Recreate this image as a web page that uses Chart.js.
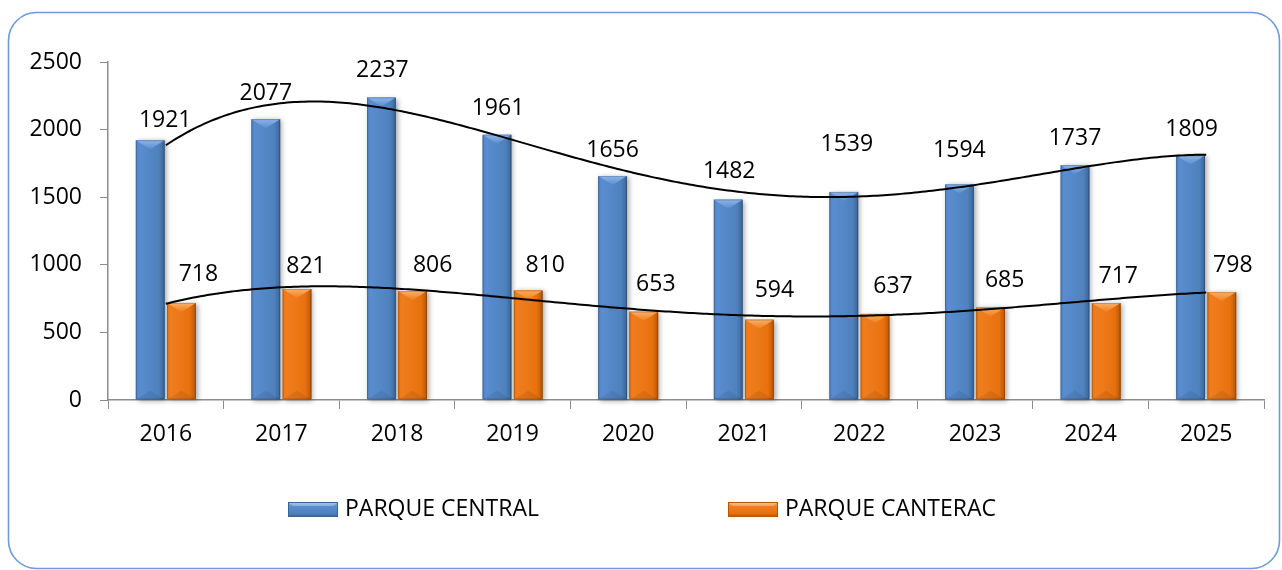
<!DOCTYPE html>
<html><head><meta charset="utf-8">
<script src="https://cdn.jsdelivr.net/npm/chart.js@4.4.1/dist/chart.umd.min.js"></script>
<style>html,body{margin:0;padding:0;background:#fff}#wrap{width:1282px;height:570px}</style>
</head><body><div id="wrap"><canvas id="c" width="1282" height="570"></canvas></div>
<script>
// ---- data ----
const categories = ['2016','2017','2018','2019','2020','2021','2022','2023','2024','2025'];
const parqueCentral = [1921,2077,2237,1961,1656,1482,1539,1594,1737,1809];
const parqueCanterac = [718,821,806,810,653,594,637,685,717,798];
const seriesNames = ['PARQUE CENTRAL','PARQUE CANTERAC'];
const yMin = 0, yMax = 2500, yStep = 500;
const trendOrder = 4;

// ---- styles ----
const FONT = {family:"'Open Sans', 'Noto Sans', sans-serif", size:23};
const AXIS_COLOR = '#8c8c8c';
const palette = [
  {main:'#4F81BD', light:'#8DB5E8', mid:'#5A8DD0', dark:'#3A6496'},
  {main:'#E8710E', light:'#FAB06A', mid:'#F07E1E', dark:'#B4560A'}
];
// label offsets (px): dx right, dy above bar top
const labelOffsets = [
  {dx:[15,0,1,1,0,1,3,0,0,1], dy:[20,26,27,26,26,28,47,34,27,26]},
  {dx:[17,9,20,17,12,15,18,14,12,11], dy:[28,23,26,25,27,29,27,27,27,27]}
];

function polyFit(ys, order){
  const n = ys.length, c = (n-1)/2;
  const m = order+1;
  const A = Array.from({length:m},()=>new Array(m+1).fill(0));
  for(let i=0;i<n;i++){
    const t=i-c;
    for(let r=0;r<m;r++){
      for(let k=0;k<m;k++) A[r][k]+=Math.pow(t,r+k);
      A[r][m]+=Math.pow(t,r)*ys[i];
    }
  }
  for(let p=0;p<m;p++){
    let best=p;
    for(let r=p+1;r<m;r++) if(Math.abs(A[r][p])>Math.abs(A[best][p])) best=r;
    [A[p],A[best]]=[A[best],A[p]];
    for(let r=0;r<m;r++){
      if(r===p) continue;
      const f=A[r][p]/A[p][p];
      for(let k=p;k<=m;k++) A[r][k]-=f*A[p][k];
    }
  }
  const coef=A.map((row,i)=>row[m]/row[i]);
  return x=>{const t=x-c;let s=0;for(let k=0;k<m;k++) s+=coef[k]*Math.pow(t,k);return s;};
}

const decorPlugin = {
  id:'decor',
  beforeDraw(chart){
    const ctx=chart.ctx;
    ctx.save();
    ctx.fillStyle='#fff';
    ctx.fillRect(0,0,chart.width,chart.height);
    ctx.strokeStyle='#6E9BD8';
    ctx.lineWidth=1.6;
    ctx.beginPath();
    ctx.roundRect(8.5,12.5,1271,556,28);
    ctx.stroke();
    ctx.restore();
  },
  afterDatasetsDraw(chart){
    const ctx=chart.ctx;
    const xs=chart.scales.x, ys=chart.scales.y;
    // styled bars
    chart.data.datasets.forEach((ds,di)=>{
      const meta=chart.getDatasetMeta(di);
      const pc=palette[di];
      meta.data.forEach(el=>{
        const w=el.width, l=el.x-w/2, r=el.x+w/2, top=el.y, bot=el.base;
        ctx.save();
        ctx.shadowColor='rgba(0,0,0,0.35)';
        ctx.shadowBlur=5; ctx.shadowOffsetX=2; ctx.shadowOffsetY=1;
        const g=ctx.createLinearGradient(l,0,r,0);
        g.addColorStop(0,pc.main);
        g.addColorStop(0.12,pc.mid);
        g.addColorStop(0.8,pc.main);
        g.addColorStop(1,pc.dark);
        ctx.fillStyle=g;
        ctx.fillRect(l,top,w,bot-top);
        ctx.restore();
        ctx.save();
        // top bevel
        const bv=Math.min(9,(bot-top)/2);
        const gt=ctx.createLinearGradient(0,top,0,top+bv);
        gt.addColorStop(0,pc.light); gt.addColorStop(1,pc.mid);
        ctx.fillStyle=gt;
        ctx.beginPath();
        ctx.moveTo(l,top); ctx.lineTo(r,top); ctx.lineTo(el.x,top+bv); ctx.closePath();
        ctx.fill();
        // bottom bevel (subtle)
        ctx.fillStyle='rgba(0,0,0,0.08)';
        ctx.beginPath();
        ctx.moveTo(l,bot); ctx.lineTo(r,bot); ctx.lineTo(el.x,bot-bv); ctx.closePath();
        ctx.fill();
        ctx.strokeStyle='rgba(0,0,0,0.18)';
        ctx.lineWidth=1;
        ctx.strokeRect(l+0.5,top+0.5,w-1,bot-top-1);
        ctx.restore();
      });
    });
    // trend lines
    ctx.save();
    ctx.beginPath();
    ctx.rect(chart.chartArea.left,chart.chartArea.top-40,chart.chartArea.width,chart.chartArea.height+40);
    ctx.clip();
    chart.data.datasets.forEach(ds=>{
      const f=polyFit(ds.data,trendOrder);
      const n=ds.data.length-1;
      ctx.beginPath();
      for(let s=0;s<=300;s++){
        const xv=n*s/300;
        const px=xs.getPixelForValue(xv), py=ys.getPixelForValue(f(xv));
        if(s===0) ctx.moveTo(px,py); else ctx.lineTo(px,py);
      }
      ctx.strokeStyle='#000'; ctx.lineWidth=2; ctx.stroke();
    });
    ctx.restore();
    // data labels
    ctx.save();
    ctx.font=`${FONT.size}px ${FONT.family}`;
    ctx.fillStyle='#000';
    ctx.textAlign='center'; ctx.textBaseline='middle';
    chart.data.datasets.forEach((ds,di)=>{
      const meta=chart.getDatasetMeta(di);
      meta.data.forEach((el,i)=>{
        ctx.fillText(String(ds.data[i]), el.x+labelOffsets[di].dx[i], el.y-labelOffsets[di].dy[i]);
      });
    });
    ctx.restore();
  },
  afterDraw(chart){
    const ctx=chart.ctx;
    ctx.save();
    ctx.font=`${FONT.size}px ${FONT.family}`;
    ctx.textBaseline='middle'; ctx.textAlign='left';
    const boxW=50, boxH=15, gapText=7, gapItems=189, y=509.5;
    const widths=seriesNames.map(s=>boxW+gapText+ctx.measureText(s).width);
    const total=widths[0]+gapItems+widths[1];
    let x=642-total/2;
    seriesNames.forEach((name,i)=>{
      const pc=palette[i];
      const t=y-boxH/2;
      const g=ctx.createLinearGradient(0,t,0,t+boxH);
      g.addColorStop(0,pc.light); g.addColorStop(0.3,pc.mid); g.addColorStop(0.75,pc.main); g.addColorStop(1,pc.dark);
      ctx.fillStyle=g;
      ctx.fillRect(x,t,boxW,boxH);
      ctx.fillStyle='rgba(255,255,255,0.25)';
      ctx.beginPath(); ctx.moveTo(x,t); ctx.lineTo(x+boxW,t); ctx.lineTo(x+boxW-5,t+4); ctx.lineTo(x+5,t+4); ctx.closePath(); ctx.fill();
      ctx.strokeStyle=pc.dark; ctx.lineWidth=1;
      ctx.strokeRect(x+0.5,t+0.5,boxW-1,boxH-1);
      ctx.fillStyle='#000';
      ctx.fillText(name,x+boxW+gapText,y);
      x+=widths[i]+gapItems;
    });
    ctx.restore();
  }
};

new Chart(document.getElementById('c'),{
  type:'bar',
  data:{
    labels:categories,
    datasets:[
      {label:seriesNames[0],data:parqueCentral,backgroundColor:palette[0].main,categoryPercentage:0.54,barPercentage:0.92},
      {label:seriesNames[1],data:parqueCanterac,backgroundColor:palette[1].main,categoryPercentage:0.54,barPercentage:0.92}
    ]
  },
  options:{
    responsive:false,animation:false,devicePixelRatio:1,
    layout:{padding:{left:0,right:18,top:62,bottom:120}},
    plugins:{legend:{display:false},tooltip:{enabled:false}},
    scales:{
      x:{
        grid:{display:true,drawOnChartArea:false,drawTicks:true,tickLength:9,color:AXIS_COLOR,offset:true},
        border:{display:true,color:AXIS_COLOR,width:1.5},
        ticks:{font:FONT,color:'#000',padding:12,maxRotation:0},
        afterFit:s=>{s.height=50;}
      },
      y:{
        min:yMin,max:yMax,
        ticks:{stepSize:yStep,font:FONT,color:'#000',padding:18,callback:v=>String(v)},
        grid:{display:true,drawOnChartArea:false,drawTicks:true,tickLength:8,color:AXIS_COLOR},
        border:{display:true,color:AXIS_COLOR,width:1.5},
        afterFit:s=>{s.width=108;}
      }
    }
  },
  plugins:[decorPlugin]
});
</script>
</body></html>
